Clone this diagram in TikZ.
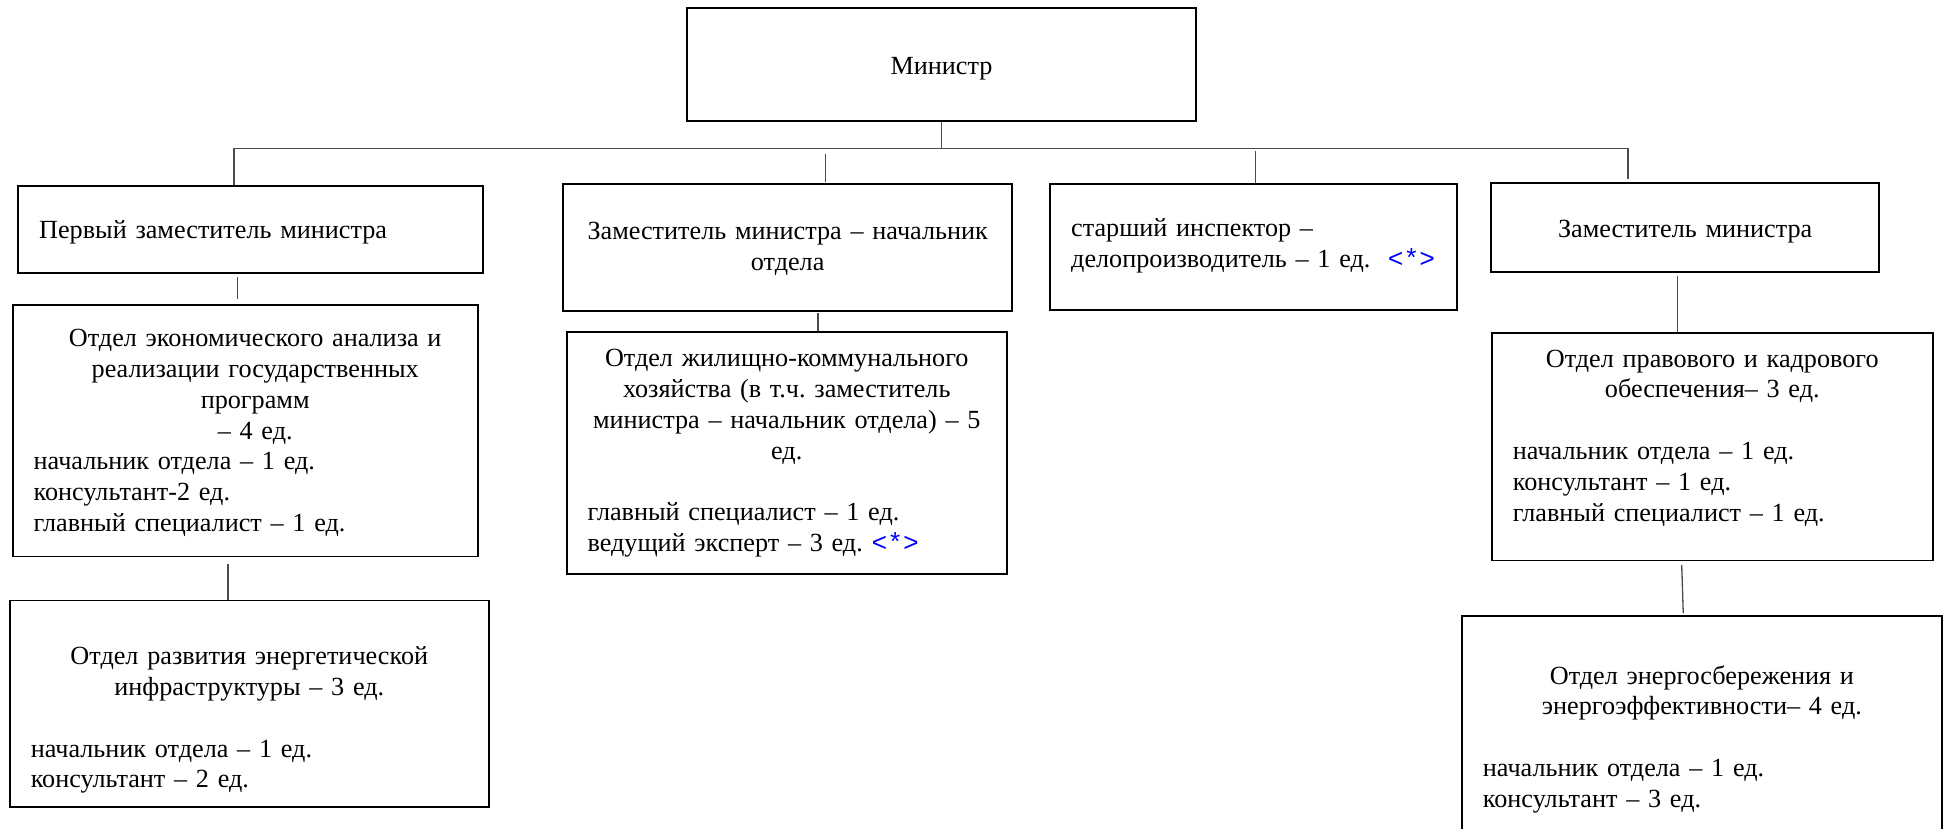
\documentclass[tikz,border=0pt]{standalone}
\usepackage{fontspec}
\setmainfont{Liberation Serif}
\newfontfamily\monofont{Liberation Mono}
\usepackage{xcolor}
\usepackage{tikz}
\newcommand\txt{\rmfamily\fontsize{26.2}{30.8}\selectfont\frenchspacing}
\newcommand\starmark{\textcolor{blue}{\monofont <*>}}

\begin{document}
\begin{tikzpicture}[x=1pt, y=-1pt,
		topbox/.style={draw, line width=2.3pt, inner xsep=21pt, inner ysep=0pt, anchor=base west, align=left, font=\txt},
		deptbox/.style={topbox, line width=1.8pt},
		link/.style={draw=black!70, line width=1.3pt}]
	\useasboundingbox (0,0) rectangle (1948,829);
	\node [topbox, text width=467.4pt, text height=66.7pt, text depth=46pt] (minister) at (685.6,75) {\centering Министр\par};
	\node [topbox, text width=422.6pt, text height=52.3pt, text depth=34.7pt] (perv) at (17,238) {Первый заместитель министра};
	\node [topbox, text width=407pt, text height=56pt, text depth=71pt] (zamnach) at (562,240) {\centering Заместитель министра – начальник\\ отдела\par};
	\node [topbox, text width=365pt, text height=52.7pt, text depth=73.3pt] (insp) at (1049,236.7) {старший инспектор –\\ \mbox{делопроизводитель – 1 ед.~~\starmark}};
	\node [topbox, text width=346pt, text height=54pt, text depth=35pt] (zam) at (1490,237) {\centering Заместитель министра\par};
	\node [deptbox, text width=423pt, text height=41.9pt, text depth=209.7pt] (econ) at (11.8,346.7) {{\centering\leftskip=20pt plus 1fil Отдел экономического анализа и\\ реализации государственных\\ программ\\ – 4 ед.\par}начальник отдела – 1 ед.\\ консультант-2 ед.\\ главный специалист – 1 ед.};
	\node [deptbox, text width=437pt, text height=64.3pt, text depth=142pt] (infra) at (8.9,664.7) {{\centering Отдел развития энергетической\\ инфраструктуры – 3 ед.\\[30.8pt]}начальник отдела – 1 ед.\\ консультант – 2 ед.};
	\node [deptbox, text width=398.3pt, text height=34.4pt, text depth=207.6pt] (housing) at (565.7,366.7) {{\centering Отдел жилищно-коммунального\\ хозяйства (в т.ч. заместитель\\ министра – начальник отдела) – 5\\ ед.\\[30.8pt]}главный специалист – 1 ед.\\ ведущий эксперт – 3 ед. \starmark};
	\node [deptbox, text width=398.7pt, text height=34.4pt, text depth=193.4pt] (legal) at (1491,367) {{\centering Отдел правового и кадрового\\ обеспечения– 3 ед.\\[30.8pt]}начальник отдела – 1 ед.\\ консультант – 1 ед.\\ главный специалист – 1 ед.};
	\node [deptbox, text width=438pt, text height=68pt, text depth=216pt] (energy) at (1461,684) {{\centering Отдел энергосбережения и\\ энергоэффективности– 4 ед.\\[30.8pt]}начальник отдела – 1 ед.\\ консультант – 3 ед.};
	\coordinate (busL) at (234,148.5);
	\coordinate (busR) at (1628,148.5);
	\coordinate (d2) at (825.7,154);
	\coordinate (d3) at (1255.5,151);
	\coordinate (e1) at (237.7,277);
	\coordinate (e2) at (228,564);
	\coordinate (e3) at (818,312.7);
	\coordinate (e4) at (1677.7,275.7);
	\coordinate (e5) at (1681.7,564.8);
	\draw [link] (minister.south) -- (minister.south |- busL);
	\draw [link] (busL) -- (busR);
	\draw [link] (busL) -- (busL |- perv.north);
	\draw [link, shorten >=1pt] (d2) -- (d2 |- zamnach.north);
	\draw [link] (d3) -- (d3 |- insp.north);
	\draw [link, shorten >=3pt] (busR) -- (busR |- zam.north);
	\draw [link, shorten >=5pt] (e1) -- (e1 |- econ.north);
	\draw [link] (e2) -- (e2 |- infra.north);
	\draw [link] (e3) -- (e3 |- housing.north);
	\draw [link] (e4) -- (e4 |- legal.north);
	\draw [link, shorten >=2pt] (e5) -- ([xshift=1.6pt]e5 |- energy.north);
\end{tikzpicture}
\end{document}
